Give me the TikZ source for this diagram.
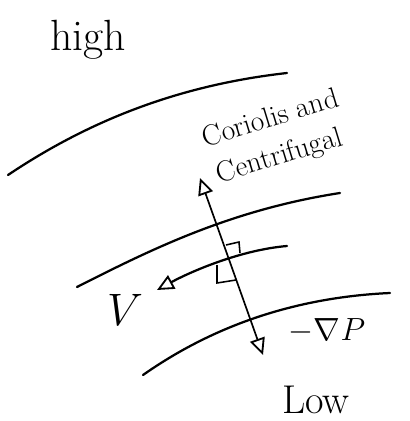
\documentclass[tikz,border=0pt]{standalone}
\usetikzlibrary{arrows.meta,calc}
\tikzset{
  isobar/.style={line width=1.6pt, line cap=round},
  vecln/.style={line width=1.2pt, line cap=round},
  rtmark/.style={line width=1.1pt, line join=miter},
  handtxt/.style={inner sep=1pt, font=\Huge},
}

\begin{document}
\begin{tikzpicture}[x=0.025cm, y=-0.025cm,
  >={Triangle[open,length=4.2mm,width=3.8mm,line width=1.3pt]}]
  \useasboundingbox (0,0) rectangle (409,421);

  % isobars, from high to low
  \draw[isobar] (8,175) .. controls (90,120) and (180,85) .. (287,73);
  \draw[isobar] (77,287) .. controls (150,250) and (230,210) .. (340,193);
  \draw[isobar] (143,375) .. controls (200,335) and (280,298) .. (390,293);

  % flow along the middle isobar
  \coordinate (vtail) at (287,246);
  \coordinate (vtip) at (157,290);
  \draw[isobar, ->] (vtail) .. controls (240,250) and (190,272) .. (vtip);

  % force balance across the isobars
  \coordinate (cftip) at (200,178);
  \coordinate (gptip) at (263,355);
  \draw[vecln, <->] (cftip) -- (gptip);

  % right angle marks
  \draw[rtmark] (226,245) -- (239,242) -- (240,253);
  \draw[rtmark] (217,265) -- (217,283) -- (236,280);

  % labels
  \node[handtxt, scale=1.25] (high) at (88,40) {high};
  \node[handtxt, font=\huge, rotate=17] (cor) at (270,117) {Coriolis and};
  \node[handtxt, font=\huge, rotate=17] (cen) at (280,157) {Centrifugal};
  \node[handtxt, scale=1.3] (vel) at (125,310) {$V$};
  \node[handtxt, font=\huge, scale=1.1] (grad) at (327,331) {$-\nabla P$};
  \node[handtxt, scale=1.15] (low) at (316,400) {Low};
\end{tikzpicture}
\end{document}
